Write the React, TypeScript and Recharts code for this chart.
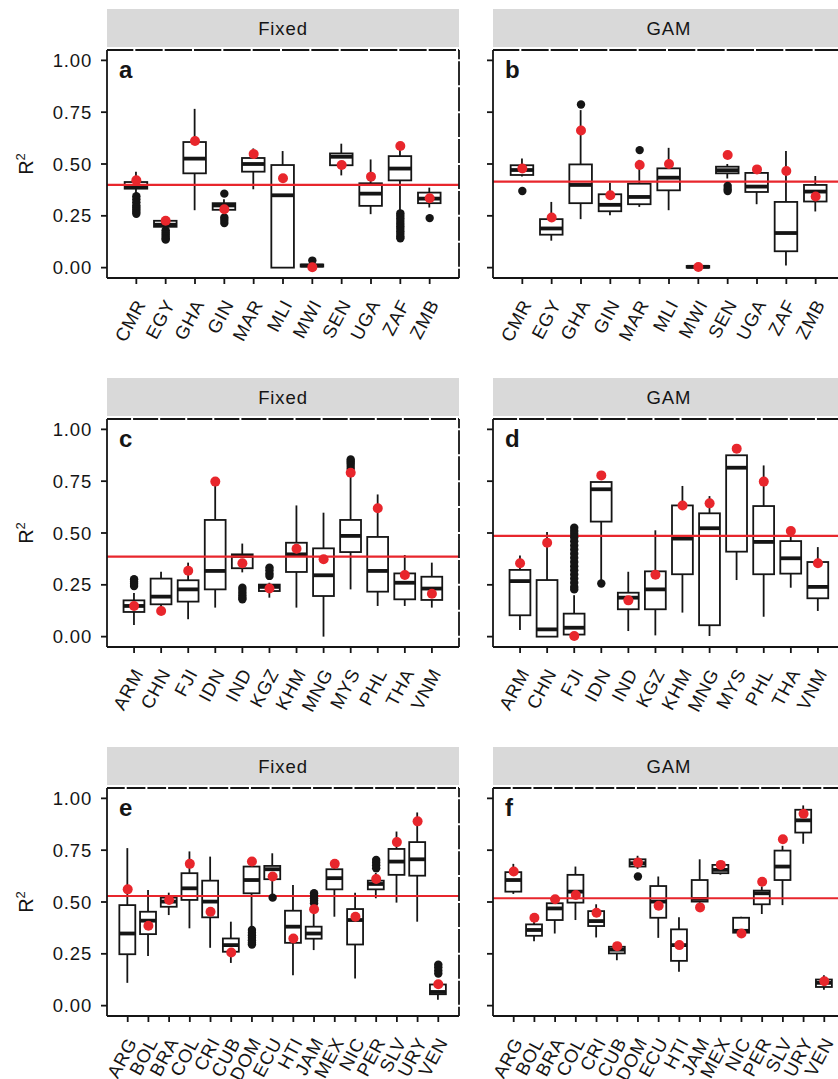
import React from 'react';
import { ComposedChart, Bar, Scatter, XAxis, YAxis, ReferenceLine } from 'recharts';

const FONT = '"Liberation Sans", Arial, Helvetica, sans-serif';
const INK = '#151515';
const RED = '#e8262c';
const STRIP = '#d9d9d9';

type Stat = [number, number, number, number, number]; // lower whisker, q1, median, q3, upper whisker

// ---------- Africa ----------
const catsAfrica = ['CMR', 'EGY', 'GHA', 'GIN', 'MAR', 'MLI', 'MWI', 'SEN', 'UGA', 'ZAF', 'ZMB'];
const fixedAfricaStats: Stat[] = [
  [0.36, 0.381, 0.392, 0.413, 0.463],
  [0.19, 0.197, 0.207, 0.226, 0.23],
  [0.277, 0.455, 0.526, 0.606, 0.766],
  [0.27, 0.279, 0.3, 0.311, 0.33],
  [0.378, 0.463, 0.5, 0.529, 0.575],
  [0.0, 0.0, 0.349, 0.495, 0.5625],
  [0.0, 0.005, 0.01, 0.015, 0.02],
  [0.445, 0.494, 0.535, 0.551, 0.598],
  [0.258, 0.298, 0.357, 0.407, 0.522],
  [0.275, 0.421, 0.478, 0.538, 0.587],
  [0.29, 0.311, 0.333, 0.362, 0.386],
];
const fixedAfricaOut: number[][] = [
  [0.345, 0.33, 0.315, 0.3, 0.29, 0.28, 0.27, 0.26],
  [0.18, 0.17, 0.16, 0.15, 0.14, 0.135],
  [],
  [0.357, 0.242, 0.23, 0.215],
  [],
  [],
  [0.034],
  [],
  [],
  [0.262, 0.25, 0.238, 0.225, 0.212, 0.2, 0.188, 0.175, 0.163, 0.15, 0.142],
  [0.239],
];
const fixedAfricaObs = [0.421, 0.226, 0.611, 0.282, 0.548, 0.431, 0.002, 0.495, 0.439, 0.587, 0.335];
const fixedAfricaRef = 0.399;

const gamAfricaStats: Stat[] = [
  [0.44, 0.447, 0.471, 0.494, 0.526],
  [0.13, 0.159, 0.189, 0.234, 0.317],
  [0.234, 0.311, 0.399, 0.498, 0.76],
  [0.253, 0.272, 0.303, 0.354, 0.41],
  [0.293, 0.306, 0.341, 0.405, 0.52],
  [0.277, 0.373, 0.434, 0.479, 0.578],
  [0.0, 0.0, 0.004, 0.008, 0.01],
  [0.43, 0.455, 0.47, 0.487, 0.5],
  [0.306, 0.365, 0.391, 0.457, 0.474],
  [0.01, 0.079, 0.167, 0.317, 0.5625],
  [0.271, 0.319, 0.367, 0.399, 0.442],
];
const gamAfricaOut: number[][] = [
  [0.37],
  [],
  [0.787],
  [],
  [0.567],
  [],
  [],
  [0.394, 0.38, 0.37],
  [],
  [],
  [],
];
const gamAfricaObs = [0.478, 0.242, 0.662, 0.349, 0.495, 0.5, 0.003, 0.543, 0.474, 0.466, 0.343];
const gamAfricaRef = 0.415;

// ---------- Asia ----------
const catsAsia = ['ARM', 'CHN', 'FJI', 'IDN', 'IND', 'KGZ', 'KHM', 'MNG', 'MYS', 'PHL', 'THA', 'VNM'];
const fixedAsiaStats: Stat[] = [
  [0.056, 0.119, 0.148, 0.175, 0.21],
  [0.14, 0.156, 0.193, 0.28, 0.313],
  [0.084, 0.169, 0.228, 0.272, 0.357],
  [0.14, 0.228, 0.317, 0.563, 0.73],
  [0.31, 0.33, 0.389, 0.397, 0.449],
  [0.188, 0.22, 0.24, 0.251, 0.26],
  [0.14, 0.312, 0.397, 0.453, 0.633],
  [0.0, 0.196, 0.296, 0.426, 0.598],
  [0.228, 0.408, 0.486, 0.563, 0.772],
  [0.148, 0.217, 0.317, 0.481, 0.686],
  [0.148, 0.18, 0.26, 0.305, 0.394],
  [0.14, 0.177, 0.232, 0.289, 0.357],
];
const fixedAsiaOut: number[][] = [
  [0.277, 0.265, 0.255, 0.244],
  [],
  [],
  [],
  [0.236, 0.225, 0.212, 0.2, 0.188, 0.18],
  [0.333, 0.32, 0.305, 0.293],
  [],
  [],
  [0.855, 0.845, 0.835, 0.823, 0.81],
  [],
  [],
  [],
];
const fixedAsiaObs = [0.148, 0.124, 0.318, 0.748, 0.354, 0.232, 0.424, 0.373, 0.791, 0.619, 0.297, 0.207];
const fixedAsiaRef = 0.386;

const gamAsiaStats: Stat[] = [
  [0.032, 0.103, 0.268, 0.322, 0.392],
  [0.0, 0.0, 0.035, 0.273, 0.505],
  [0.003, 0.01, 0.043, 0.111, 0.2],
  [0.27, 0.555, 0.711, 0.746, 0.746],
  [0.027, 0.132, 0.188, 0.212, 0.313],
  [0.006, 0.132, 0.228, 0.315, 0.513],
  [0.116, 0.301, 0.473, 0.633, 0.727],
  [0.003, 0.055, 0.523, 0.595, 0.678],
  [0.273, 0.41, 0.815, 0.875, 0.875],
  [0.096, 0.301, 0.457, 0.63, 0.826],
  [0.236, 0.304, 0.378, 0.461, 0.51],
  [0.124, 0.185, 0.24, 0.36, 0.432],
];
const gamAsiaOut: number[][] = [
  [],
  [],
  [0.525, 0.51, 0.495, 0.48, 0.46, 0.44, 0.42, 0.4, 0.38, 0.36, 0.34, 0.32, 0.3, 0.28, 0.26, 0.24, 0.228],
  [0.256],
  [],
  [],
  [],
  [],
  [],
  [],
  [],
  [],
];
const gamAsiaObs = [0.354, 0.453, 0.003, 0.778, 0.175, 0.299, 0.633, 0.643, 0.907, 0.748, 0.51, 0.354];
const gamAsiaRef = 0.486;

// ---------- Latin America ----------
const catsLatam = ['ARG', 'BOL', 'BRA', 'COL', 'CRI', 'CUB', 'DOM', 'ECU', 'HTI', 'JAM', 'MEX', 'NIC', 'PER', 'SLV', 'URY', 'VEN'];
const fixedLatamStats: Stat[] = [
  [0.11, 0.248, 0.348, 0.485, 0.76],
  [0.239, 0.345, 0.41, 0.453, 0.558],
  [0.437, 0.477, 0.502, 0.521, 0.545],
  [0.373, 0.51, 0.566, 0.639, 0.744],
  [0.279, 0.426, 0.502, 0.603, 0.719],
  [0.206, 0.26, 0.292, 0.324, 0.405],
  [0.38, 0.542, 0.606, 0.671, 0.703],
  [0.534, 0.61, 0.658, 0.674, 0.735],
  [0.147, 0.303, 0.381, 0.458, 0.582],
  [0.268, 0.323, 0.348, 0.381, 0.445],
  [0.429, 0.561, 0.615, 0.658, 0.703],
  [0.131, 0.295, 0.413, 0.466, 0.545],
  [0.518, 0.561, 0.587, 0.603, 0.64],
  [0.497, 0.631, 0.695, 0.756, 0.84],
  [0.405, 0.627, 0.706, 0.789, 0.932],
  [0.029, 0.055, 0.066, 0.102, 0.12],
];
const fixedLatamOut: number[][] = [
  [],
  [],
  [],
  [],
  [],
  [],
  [0.365, 0.352, 0.34, 0.328, 0.316, 0.304, 0.295],
  [0.521],
  [],
  [0.542, 0.53, 0.518, 0.506, 0.494],
  [],
  [],
  [0.703, 0.69, 0.677, 0.663],
  [],
  [],
  [0.198, 0.185, 0.17, 0.155],
];
const fixedLatamObs = [0.561, 0.385, 0.51, 0.684, 0.453, 0.256, 0.695, 0.623, 0.324, 0.465, 0.684, 0.429, 0.611, 0.789, 0.889, 0.103];
const fixedLatamRef = 0.529;

const gamLatamStats: Stat[] = [
  [0.539, 0.55, 0.606, 0.644, 0.684],
  [0.311, 0.337, 0.365, 0.392, 0.41],
  [0.348, 0.413, 0.469, 0.494, 0.513],
  [0.413, 0.497, 0.55, 0.631, 0.671],
  [0.329, 0.384, 0.408, 0.456, 0.489],
  [0.219, 0.252, 0.27, 0.284, 0.292],
  [0.66, 0.671, 0.687, 0.706, 0.723],
  [0.327, 0.424, 0.502, 0.577, 0.623],
  [0.163, 0.216, 0.292, 0.368, 0.426],
  [0.495, 0.502, 0.515, 0.606, 0.706],
  [0.632, 0.639, 0.655, 0.679, 0.69],
  [0.35, 0.352, 0.361, 0.424, 0.429],
  [0.442, 0.489, 0.542, 0.555, 0.575],
  [0.485, 0.606, 0.671, 0.748, 0.771],
  [0.781, 0.835, 0.894, 0.945, 0.966],
  [0.077, 0.09, 0.11, 0.126, 0.147],
];
const gamLatamOut: number[][] = [
  [], [], [], [], [], [], [0.623], [], [], [], [], [], [], [], [], [],
];
const gamLatamObs = [0.647, 0.424, 0.513, 0.534, 0.448, 0.287, 0.69, 0.482, 0.292, 0.474, 0.679, 0.348, 0.598, 0.803, 0.926, 0.118];
const gamLatamRef = 0.518;

const yTicks = [0, 0.25, 0.5, 0.75, 1];
const stripTitles = ['Fixed', 'GAM'];
const panelLetters = [['a', 'b'], ['c', 'd'], ['e', 'f']];

// ---------- layout ----------
const COL_LEFT = [107, 493];
const PLOT_W = 352;
const STRIP_TOP = [9, 378, 747];
const STRIP_H = 38;
const PLOT_GAP = 3;
const PLOT_H = 228;
const Y_DOMAIN: [number, number] = [-0.05, 1.05];
const LINE_W = 1.8;
const TXT = 18.5;

const plotTop = (row: number) => STRIP_TOP[row] + STRIP_H + PLOT_GAP;

const BoxShape = (props: any) => {
  const { x, y, width, height, payload } = props;
  if (x == null || y == null || !payload) return null;
  const top = Math.min(y, y + height);
  const h = Math.abs(height);
  const { lo, q1, med, q3, hi } = payload;
  const span = hi - lo;
  const py = (v: number) => (span > 0 ? top + (h * (hi - v)) / span : top);
  const cx = x + width / 2;
  return (
    <g>
      <line x1={cx} x2={cx} y1={py(hi)} y2={py(q3)} stroke={INK} strokeWidth={LINE_W} />
      <line x1={cx} x2={cx} y1={py(q1)} y2={py(lo)} stroke={INK} strokeWidth={LINE_W} />
      <rect x={x} y={py(q3)} width={width} height={Math.max(py(q1) - py(q3), 0.5)} fill="#ffffff" stroke={INK} strokeWidth={LINE_W} />
      <line x1={x} x2={x + width} y1={py(med)} y2={py(med)} stroke={INK} strokeWidth={3.8} />
    </g>
  );
};

const XTick = (props: any) => {
  const { x, y, payload, cats } = props;
  const label = cats[Math.round(payload.value) - 1];
  if (!label) return null;
  return (
    <text
      transform={`translate(${x + 10},${y + 20}) rotate(-62)`}
      textAnchor="end"
      fontSize={TXT}
      fontFamily={FONT}
      letterSpacing={0.8}
      fill={INK}
    >
      {label}
    </text>
  );
};

interface PanelProps {
  cats: string[];
  stats: Stat[];
  outliers: number[][];
  obs: number[];
  refValue: number;
  row: number;
  col: number;
}

const Panel = ({ cats, stats, outliers, obs, refValue, row, col }: PanelProps) => {
  const n = cats.length;
  const u = PLOT_W / (n + 1);
  const data = cats.map((name, i) => ({
    idx: i + 1,
    name,
    range: [stats[i][0], stats[i][4]],
    lo: stats[i][0],
    q1: stats[i][1],
    med: stats[i][2],
    q3: stats[i][3],
    hi: stats[i][4],
  }));
  const outData = outliers.flatMap((arr, i) => arr.map((v) => ({ idx: i + 1, v })));
  const obsData = obs.map((v, i) => ({ idx: i + 1, v }));
  const xTicks = cats.map((_, i) => i + 1);

  const axisW = col === 0 ? 107 : 33;
  const left = COL_LEFT[col] - axisW;
  const top = plotTop(row) - 2;
  const width = axisW + PLOT_W + 4;
  const height = 2 + PLOT_H + 80;

  const solidAxis = { stroke: INK, strokeWidth: LINE_W };

  return (
    <div style={{ position: 'absolute', left, top }}>
      <ComposedChart width={width} height={height} data={data} margin={{ top: 2, right: 4, bottom: 0, left: 0 }}>
        <XAxis
          dataKey="idx"
          type="number"
          domain={[0, n + 1]}
          ticks={xTicks}
          interval={0}
          allowDataOverflow
          height={80}
          tickSize={6}
          tickMargin={0}
          axisLine={solidAxis}
          tickLine={solidAxis}
          tick={(p: any) => <XTick {...p} cats={cats} />}
        />
        <YAxis
          type="number"
          domain={Y_DOMAIN}
          ticks={yTicks}
          interval={0}
          allowDataOverflow
          width={axisW}
          tickSize={6}
          tickMargin={9}
          axisLine={solidAxis}
          tickLine={solidAxis}
          tickFormatter={(v: number) => (col === 0 ? v.toFixed(2) : '')}
          tick={{ fill: INK, fontSize: TXT, fontFamily: FONT, letterSpacing: 0.8 }}
        />
        <Bar dataKey="range" barSize={0.77 * u} shape={(p: any) => <BoxShape {...p} />} isAnimationActive={false} />
        <ReferenceLine y={refValue} stroke={RED} strokeWidth={2.2} ifOverflow="visible" />
        <Scatter
          data={outData}
          dataKey="v"
          isAnimationActive={false}
          shape={(p: any) => <circle cx={p.cx} cy={p.cy} r={4.2} fill={INK} />}
        />
        <Scatter
          data={obsData}
          dataKey="v"
          isAnimationActive={false}
          shape={(p: any) => <circle cx={p.cx} cy={p.cy} r={5} fill={RED} />}
        />
      </ComposedChart>
    </div>
  );
};

const panelsConfig = [
  { cats: catsAfrica, stats: fixedAfricaStats, outliers: fixedAfricaOut, obs: fixedAfricaObs, refValue: fixedAfricaRef, row: 0, col: 0 },
  { cats: catsAfrica, stats: gamAfricaStats, outliers: gamAfricaOut, obs: gamAfricaObs, refValue: gamAfricaRef, row: 0, col: 1 },
  { cats: catsAsia, stats: fixedAsiaStats, outliers: fixedAsiaOut, obs: fixedAsiaObs, refValue: fixedAsiaRef, row: 1, col: 0 },
  { cats: catsAsia, stats: gamAsiaStats, outliers: gamAsiaOut, obs: gamAsiaObs, refValue: gamAsiaRef, row: 1, col: 1 },
  { cats: catsLatam, stats: fixedLatamStats, outliers: fixedLatamOut, obs: fixedLatamObs, refValue: fixedLatamRef, row: 2, col: 0 },
  { cats: catsLatam, stats: gamLatamStats, outliers: gamLatamOut, obs: gamLatamObs, refValue: gamLatamRef, row: 2, col: 1 },
];

// Top / right panel border, broken by the (white) grid lines as in the reference
const PanelFrame = ({ row, col, n }: { row: number; col: number; n: number }) => {
  const x0 = COL_LEFT[col];
  const y0 = plotTop(row);
  const u = PLOT_W / (n + 1);
  const pxPerUnit = PLOT_H / (Y_DOMAIN[1] - Y_DOMAIN[0]);
  const d = 0.125 * pxPerUnit;
  const p0 = (Y_DOMAIN[1] - 1) * pxPerUnit;
  const gap = 2;
  return (
    <g>
      <line
        x1={x0}
        x2={x0 + PLOT_W}
        y1={y0}
        y2={y0}
        stroke={INK}
        strokeWidth={LINE_W}
        strokeDasharray={`${u - gap} ${gap}`}
        strokeDashoffset={gap / 2}
      />
      <line
        x1={x0 + PLOT_W}
        x2={x0 + PLOT_W}
        y1={y0}
        y2={y0 + PLOT_H}
        stroke={INK}
        strokeWidth={LINE_W}
        strokeDasharray={`${d - gap} ${gap}`}
        strokeDashoffset={d - gap / 2 - p0 + d}
      />
    </g>
  );
};

export default function App() {
  return (
    <div style={{ position: 'absolute', left: 0, top: 0, width: 838, height: 1079, overflow: 'hidden', background: '#ffffff' }}>
      {panelsConfig.map((p, i) => (
        <Panel key={i} {...p} />
      ))}
      <svg width={838} height={1079} style={{ position: 'absolute', left: 0, top: 0, pointerEvents: 'none' }}>
        {panelsConfig.map((p, i) => (
          <PanelFrame key={`f${i}`} row={p.row} col={p.col} n={p.cats.length} />
        ))}
        {[0, 1, 2].map((row) =>
          [0, 1].map((col) => (
            <g key={`${row}-${col}`}>
              <rect x={COL_LEFT[col]} y={STRIP_TOP[row]} width={PLOT_W} height={STRIP_H} fill={STRIP} />
              <text
                x={COL_LEFT[col] + PLOT_W / 2}
                y={STRIP_TOP[row] + STRIP_H / 2 + 6.5}
                textAnchor="middle"
                fontSize={TXT}
                fontFamily={FONT}
                letterSpacing={0.9}
                fill={INK}
              >
                {stripTitles[col]}
              </text>
              <text
                x={COL_LEFT[col] + 12}
                y={plotTop(row) + 28}
                fontSize={24}
                fontWeight="bold"
                fontFamily={FONT}
                fill={INK}
              >
                {panelLetters[row][col]}
              </text>
            </g>
          ))
        )}
        {[0, 1, 2].map((row) => (
          <text
            key={`r2-${row}`}
            transform={`translate(33,${plotTop(row) + PLOT_H / 2}) rotate(-90)`}
            textAnchor="middle"
            fontSize={20}
            fontFamily={FONT}
            fill={INK}
          >
            R<tspan dy={-8} fontSize={13}>2</tspan>
          </text>
        ))}
      </svg>
    </div>
  );
}
